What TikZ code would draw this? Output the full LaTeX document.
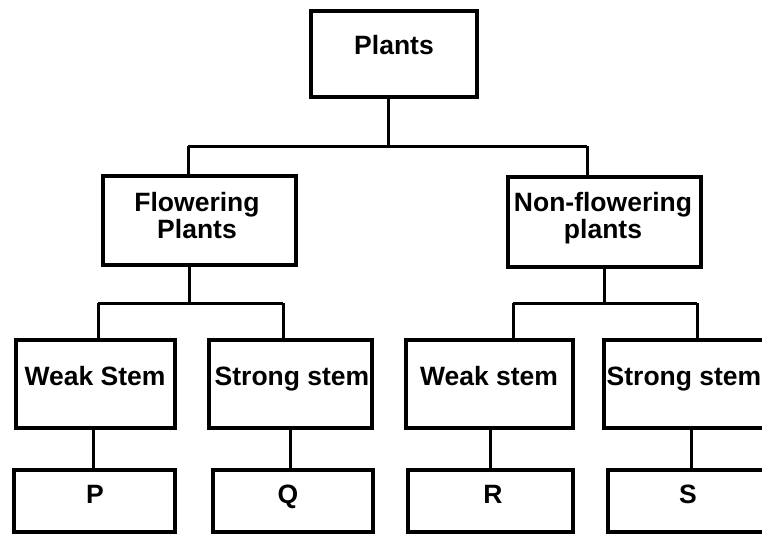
\documentclass[tikz,border=0pt]{standalone}
\usepackage{fontspec}
\setmainfont{Liberation Sans}
\begin{document}
\begin{tikzpicture}[x=1pt,y=-1pt,
  box/.style={draw=black,line width=3.5pt,rectangle,inner sep=0pt,fill=white},
  conn/.style={draw=black,line width=3pt},
  lbl/.style={anchor=base,inner sep=0pt,font=\fontsize{26.5}{27}\selectfont\bfseries}]
\useasboundingbox (0,0) rectangle (762,535);
\clip (0,0) rectangle (762,535);
\fill[white] (0,0) rectangle (762,535);
% boxes
\node[box,minimum width=166pt,minimum height=86pt] (plants) at (394,54) {};
\node[box,minimum width=193pt,minimum height=89pt] (flow) at (199.5,220.5) {};
\node[box,minimum width=193pt,minimum height=90pt] (nonf) at (604.5,222) {};
\node[box,minimum width=159pt,minimum height=88pt] (ws1) at (95.5,384) {};
\node[box,minimum width=163pt,minimum height=88pt] (ss1) at (290.5,384) {};
\node[box,minimum width=167pt,minimum height=88pt] (ws2) at (489.5,384) {};
\node[box,minimum width=186pt,minimum height=88pt] (ss2) at (697,384) {};
\node[box,minimum width=161pt,minimum height=62pt] (p) at (94.5,501) {};
\node[box,minimum width=160pt,minimum height=62pt] (q) at (293,501) {};
\node[box,minimum width=165pt,minimum height=62pt] (r) at (490.5,501) {};
\node[box,minimum width=170pt,minimum height=62pt] (s) at (693,501) {};
% texts
\node[lbl] (tplants) at (394,55) {Plants};
\node[lbl] (tflowA) at (197,211) {Flowering};
\node[lbl] (tflowB) at (197,238) {Plants};
\node[lbl] (tnonfA) at (603,211) {Non-flowering};
\node[lbl] (tnonfB) at (603,238) {plants};
\node[lbl] (tws1) at (95,385) {Weak Stem};
\node[lbl] (tss1) at (292,385) {Strong stem};
\node[lbl] (tws2) at (489,385) {Weak stem};
\node[lbl] (tss2) at (684,385) {Strong stem};
\node[lbl] (tp) at (95,503) {P};
\node[lbl] (tq) at (288,503) {Q};
\node[lbl] (tr) at (493,503) {R};
\node[lbl] (ts) at (688,503) {S};
% junction coordinates
\coordinate (j1) at (388,146);
\coordinate (h1L) at (188,146);
\coordinate (h1R) at (587,146);
\coordinate (j2) at (189,303);
\coordinate (h2L) at (98,303);
\coordinate (h2R) at (283,303);
\coordinate (j3) at (604,303);
\coordinate (h3L) at (513,303);
\coordinate (h3R) at (697,303);
\coordinate (c1) at (93,450);
\coordinate (c2) at (290,450);
\coordinate (c3) at (490,450);
\coordinate (c4) at (691,450);
% connectors
\begin{scope}[on background layer/.try]
\end{scope}
\draw[conn] (plants.south -| j1) -- (j1);
\draw[conn] (h1L) -- (h1R);
\draw[conn] (h1L) -- (flow.north -| h1L);
\draw[conn] (h1R) -- (nonf.north -| h1R);
\draw[conn] (flow.south -| j2) -- (j2);
\draw[conn] (h2L) -- (h2R);
\draw[conn] (h2L) -- (ws1.north -| h2L);
\draw[conn] (h2R) -- (ss1.north -| h2R);
\draw[conn] (nonf.south -| j3) -- (j3);
\draw[conn] (h3L) -- (h3R);
\draw[conn] (h3L) -- (ws2.north -| h3L);
\draw[conn] (h3R) -- (ss2.north -| h3R);
\draw[conn] (ws1.south -| c1) -- (p.north -| c1);
\draw[conn] (ss1.south -| c2) -- (q.north -| c2);
\draw[conn] (ws2.south -| c3) -- (r.north -| c3);
\draw[conn] (ss2.south -| c4) -- (s.north -| c4);
\end{tikzpicture}
\end{document}
